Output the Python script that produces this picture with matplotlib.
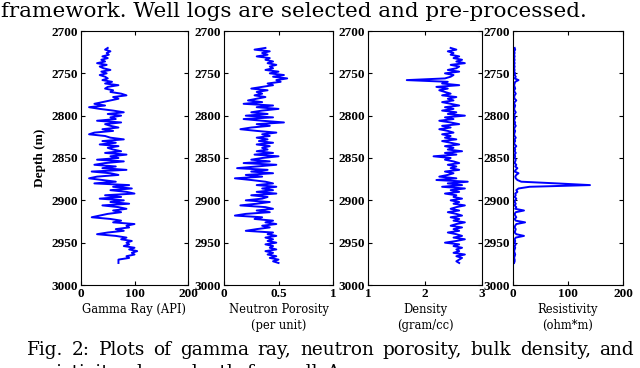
import numpy as np
import matplotlib
matplotlib.use("Agg")
import matplotlib.pyplot as plt

# === データ (2720 m から 2 m 刻み) ===
depth = np.arange(2720, 2976, 2)

gamma_ray = [50, 45, 55, 48, 52, 40,
             50, 38, 45, 30, 48, 35,
             42, 55, 38, 48, 35, 45,
             50, 40, 58, 45, 70, 50,
             45, 60, 55, 75, 85, 60,
             70, 55, 40, 25, 45, 15,
             35, 60, 80, 50, 75, 55,
             65, 30, 75, 45, 55, 70,
             40, 60, 25, 15, 45, 55,
             80, 40, 65, 35, 70, 50,
             60, 75, 45, 85, 55, 70,
             30, 80, 45, 25, 65, 40,
             85, 20, 55, 70, 30, 15,
             40, 65, 25, 90, 60, 95,
             55, 85, 100, 45, 75, 35,
             80, 55, 90, 40, 70, 85,
             60, 75, 50, 35, 20, 55,
             75, 60, 100, 85, 90, 65,
             80, 50, 30, 65, 85, 75,
             95, 85, 90, 80, 100, 90,
             105, 95, 100, 85, 90, 70,
             70, 70]

neutron = [0.38, 0.28, 0.42, 0.35, 0.40, 0.30,
           0.42, 0.38, 0.45, 0.40, 0.48, 0.42,
           0.45, 0.38, 0.50, 0.42, 0.55, 0.45,
           0.58, 0.48, 0.52, 0.40, 0.45, 0.35,
           0.25, 0.40, 0.30, 0.35, 0.28, 0.38,
           0.30, 0.22, 0.35, 0.18, 0.45, 0.30,
           0.50, 0.35, 0.25, 0.40, 0.20, 0.45,
           0.18, 0.35, 0.55, 0.30, 0.42, 0.25,
           0.15, 0.30, 0.48, 0.35, 0.42, 0.30,
           0.40, 0.32, 0.45, 0.30, 0.42, 0.35,
           0.40, 0.30, 0.45, 0.28, 0.50, 0.35,
           0.25, 0.42, 0.18, 0.48, 0.30, 0.12,
           0.40, 0.25, 0.45, 0.20, 0.35, 0.10,
           0.25, 0.38, 0.45, 0.30, 0.48, 0.35,
           0.45, 0.30, 0.48, 0.25, 0.40, 0.35,
           0.20, 0.42, 0.30, 0.15, 0.38, 0.45,
           0.30, 0.42, 0.20, 0.10, 0.35, 0.28,
           0.45, 0.38, 0.48, 0.35, 0.42, 0.30,
           0.20, 0.45, 0.40, 0.48, 0.38, 0.45,
           0.40, 0.48, 0.38, 0.45, 0.42, 0.48,
           0.38, 0.45, 0.40, 0.48, 0.42, 0.50,
           0.45, 0.50]

density = [2.45, 2.55, 2.40, 2.50, 2.45, 2.60,
           2.50, 2.65, 2.55, 2.70, 2.45, 2.60,
           2.55, 2.40, 2.60, 2.35, 2.50, 2.45,
           2.35, 1.68, 2.40, 2.30, 2.60, 2.20,
           2.40, 2.25, 2.35, 2.45, 2.30, 2.55,
           2.40, 2.50, 2.30, 2.45, 2.60, 2.35,
           2.50, 2.30, 2.55, 2.40, 2.70, 2.35,
           2.50, 2.25, 2.45, 2.60, 2.30, 2.45,
           2.25, 2.40, 2.50, 2.30, 2.45, 2.35,
           2.55, 2.30, 2.45, 2.60, 2.35, 2.50,
           2.40, 2.65, 2.35, 2.55, 2.15, 2.45,
           2.35, 2.50, 2.60, 2.40, 2.55, 2.45,
           2.60, 2.35, 2.50, 2.40, 2.25, 2.55,
           2.20, 2.75, 2.40, 2.65, 2.30, 2.70,
           2.45, 2.60, 2.35, 2.55, 2.50, 2.65,
           2.45, 2.60, 2.50, 2.70, 2.55, 2.45,
           2.60, 2.40, 2.55, 2.65, 2.45, 2.60,
           2.50, 2.70, 2.55, 2.45, 2.65, 2.50,
           2.60, 2.40, 2.55, 2.65, 2.50, 2.70,
           2.55, 2.35, 2.60, 2.50, 2.65, 2.55,
           2.60, 2.50, 2.70, 2.55, 2.65, 2.60,
           2.55, 2.60]

resistivity = [3, 4, 2, 3, 2, 3,
               2, 3, 2, 3, 2, 3,
               2, 3, 2, 4, 3, 5,
               3, 10, 4, 3, 2, 3,
               4, 2, 3, 5, 3, 2,
               3, 6, 3, 2, 4, 3,
               2, 3, 5, 3, 2, 4,
               3, 2, 4, 3, 5, 3,
               2, 4, 3, 2, 3, 5,
               3, 4, 2, 3, 6, 3,
               4, 3, 5, 3, 4, 3,
               5, 4, 3, 6, 4, 8,
               5, 3, 10, 6, 4, 5,
               8, 15, 80, 140, 30, 10,
               6, 8, 4, 5, 3, 6,
               4, 3, 5, 3, 6, 4,
               20, 5, 3, 4, 6, 3,
               5, 22, 6, 4, 3, 5,
               4, 3, 6, 20, 5, 3,
               4, 3, 5, 3, 4, 3,
               2, 3, 4, 3, 2, 3,
               3, 2]

logs = [gamma_ray, neutron, density, resistivity]
xlims = [(0, 200), (0, 1), (1, 3), (0, 200)]
xticks = [[0, 100, 200], [0, 0.5, 1], [1, 2, 3], [0, 100, 200]]
xticklabels = [["0", "100", "200"], ["0", "0.5", "1"], ["1", "2", "3"], ["0", "100", "200"]]
xlabels = ["Gamma Ray (API)", "Neutron Porosity\n(per unit)", "Density\n(gram/cc)", "Resistivity\n(ohm*m)"]
yticks = [2700, 2750, 2800, 2850, 2900, 2950, 3000]

top_line = "framework. Well logs are selected and pre-processed."
caption = "Fig. 2: Plots of gamma ray, neutron porosity, bulk density, and"
caption2 = "resistivity along depth for well A."

# === 描画 ===
W, H = 640, 368
fig = plt.figure(figsize=(W / 100, H / 100), dpi=100)
fig.patch.set_facecolor("white")

# 各パネルの位置 (ピクセル)
lefts = [81, 224, 368, 513]
widths = [107, 109, 114, 110]
top, bottom = 31, 285

for i, vals in enumerate(logs):
    ax = fig.add_axes([lefts[i] / W, 1 - bottom / H, widths[i] / W, (bottom - top) / H])
    ax.plot(vals, depth, color="#0000ff", lw=1.4)
    ax.set_xlim(*xlims[i])
    ax.set_ylim(3000, 2700)
    ax.set_xticks(xticks[i])
    ax.set_xticklabels(xticklabels[i], family="Liberation Serif", fontweight="bold", fontsize=9.5)
    ax.set_yticks(yticks)
    ax.set_yticklabels([str(t) for t in yticks], family="Liberation Serif", fontweight="bold", fontsize=9.5)
    ax.tick_params(direction="in", length=3, width=0.8, top=True, right=True, pad=2)
    for s in ax.spines.values():
        s.set_linewidth(0.8)
    ax.set_xlabel(xlabels[i], family="DejaVu Serif", fontsize=8.3, labelpad=2, linespacing=1.35)
    if i == 0:
        ax.set_ylabel("Depth (m)", family="Liberation Serif", fontweight="bold", fontsize=9.5, labelpad=4)

renderer = fig.canvas.get_renderer()

# 本文テキスト（上の行）: 幅に合わせてサイズ調整
t = fig.text(1 / W, 1 - 17 / H, top_line, family="DejaVu Serif", fontsize=14,
             va="baseline", ha="left")
w = t.get_window_extent(renderer).width
t.set_fontsize(14 * 584 / w)

# キャプション（両端揃え）
def justify(words, x0, x1, y, size):
    objs = [fig.text(0, 1 - y / H, wd, family="DejaVu Serif", fontsize=size,
                     va="baseline", ha="left") for wd in words]
    ws = [o.get_window_extent(renderer).width for o in objs]
    gap = (x1 - x0 - sum(ws)) / (len(words) - 1)
    x = x0
    for o, wd in zip(objs, ws):
        o.set_x(x / W)
        x += wd + gap

justify(caption.split(), 27, 634, 355, 13.3)
justify(caption2.split(), 27, 345, 378, 13.3)

fig.savefig("out.png", dpi=100)
